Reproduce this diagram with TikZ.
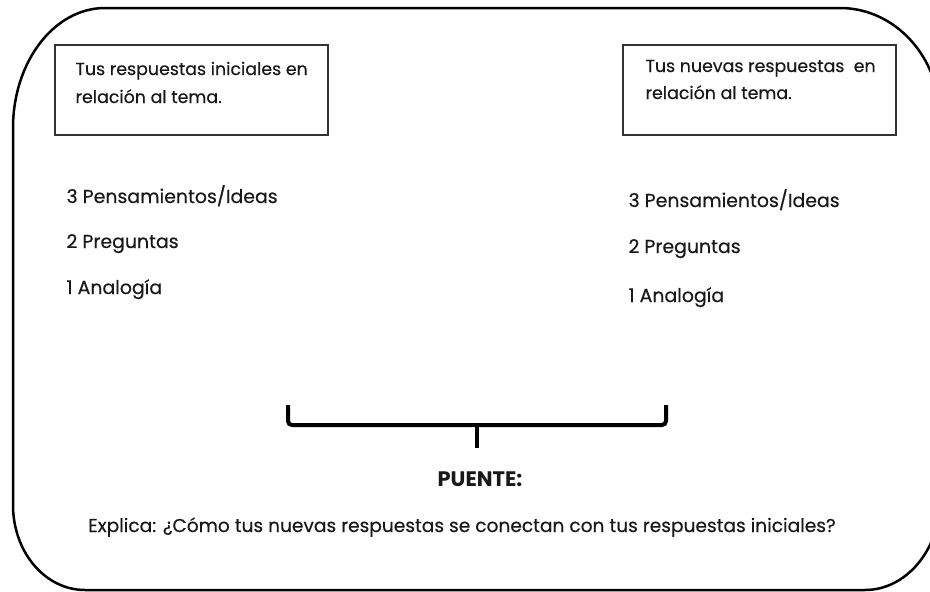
\documentclass[tikz,border=0pt]{standalone}
\usepackage{fontspec}
\setmainfont{Poppins}[UprightFeatures={FakeBold=0.4}]
\begin{document}
\begin{tikzpicture}[x=1pt,y=-1pt,
    boxtxt/.style={anchor=base west, font=\fontsize{17.4}{20}\selectfont, text=black!90},
    listtxt/.style={anchor=base west, font=\fontsize{18.9}{22}\selectfont, text=black!90},
    pregunta/.style={anchor=base, font=\fontsize{18.6}{22}\selectfont, text=black!90}]
    \useasboundingbox (0,0) rectangle (930,592);
    \clip (0,0) rectangle (930,592);

    % outer frame
    \draw[line width=2.5pt] (105,8) -- (840,8)
        .. controls (895,8) and (940,57) .. (940,118)
        -- (940,500)
        .. controls (940,550) and (906,590) .. (865,590)
        -- (85,590)
        .. controls (45,590) and (13,552) .. (13,505)
        -- (13,128)
        .. controls (13,62) and (54,8) .. (105,8) -- cycle;

    % boxes
    \draw[black!80, line width=1.5pt] (55,45) rectangle (328,135);
    \draw[black!80, line width=1.5pt] (623,45) rectangle (896,135);

    \node[boxtxt] (ini1) at (72,75) {Tus respuestas iniciales en};
    \node[boxtxt] (ini2) at (72,103) {relación al tema.};
    \node[boxtxt] (nue1) at (642,72) {Tus nuevas respuestas \ en};
    \node[boxtxt] (nue2) at (642,99) {relación al tema.};

    % lists
    \node[listtxt] (l3) at (63,203) {3 Pensamientos/Ideas};
    \node[listtxt] (l2) at (63,248) {2 Preguntas};
    \node[listtxt] (l1) at (63,294) {1 Analogía};
    \node[listtxt] (r3) at (625,207) {3 Pensamientos/Ideas};
    \node[listtxt] (r2) at (625,253) {2 Preguntas};
    \node[listtxt] (r1) at (625,302) {1 Analogía};

    % brace
    \draw[line width=4pt, rounded corners=4pt] (288,405) -- (288,425) -- (666,425) -- (666,405);
    \draw[line width=4pt] (477,425) -- (477,448);

    \node[pregunta, font=\fontsize{21}{24}\selectfont\bfseries] (puente) at (480,486) {PUENTE:};
    \node[pregunta] (explica) at (462,532) {Explica: ¿Cómo tus nuevas respuestas se conectan con tus respuestas iniciales?};
\end{tikzpicture}
\end{document}
